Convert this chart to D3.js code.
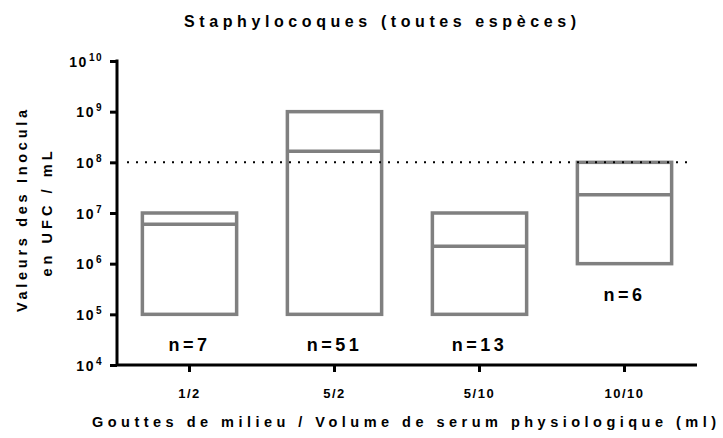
<!DOCTYPE html>
<html><head><meta charset="utf-8">
<script src="https://cdn.jsdelivr.net/npm/d3@7"></script>
<style>body{margin:0;background:#fff}svg{display:block}text{font-family:"Liberation Sans",Arial,sans-serif;font-weight:bold;fill:#000}</style>
</head><body>
<script>
const categories = ["1/2", "5/2", "5/10", "10/10"];
const minValues = [1e5, 1e5, 1e5, 1e6];
const maxValues = [1e7, 1e9, 1e7, 1e8];
const medianValues = [6e6, 1.65e8, 2.2e6, 2.3e7];
const nCounts = [7, 51, 13, 6];
const yTickExponents = [4, 5, 6, 7, 8, 9, 10];
const thresholdValue = 1e8;
const chartTitle = "Staphylocoques (toutes espèces)";
const xTitle = "Gouttes de milieu / Volume de serum physiologique (ml)";
const yTitleLines = ["Valeurs des Inocula", "en UFC / mL"];

const W = 723, H = 438;
const svg = d3.select("body").append("svg").attr("width", W).attr("height", H);

const x = d3.scaleBand().domain(categories).range([117, 697]).paddingInner(0.35).paddingOuter(0.175);
const y = d3.scaleLog().domain([1e4, 1e10]).range([365, 61]);

// boxes
const g = svg.append("g");
categories.forEach((c, i) => {
  g.append("rect")
    .attr("x", x(c)).attr("width", x.bandwidth())
    .attr("y", y(maxValues[i])).attr("height", y(minValues[i]) - y(maxValues[i]))
    .attr("fill", "#fff").attr("stroke", "#808080").attr("stroke-width", 3.5);
  g.append("line")
    .attr("x1", x(c)).attr("x2", x(c) + x.bandwidth())
    .attr("y1", y(medianValues[i])).attr("y2", y(medianValues[i]))
    .attr("stroke", "#808080").attr("stroke-width", 3.5);
  g.append("text")
    .attr("x", x(c) + x.bandwidth() / 2)
    .attr("y", y(minValues[i]) + 37)
    .attr("text-anchor", "middle")
    .style("font-size", "18px").style("letter-spacing", "3.5px")
    .text("n=" + nCounts[i]);
});

// threshold dotted line (drawn over the boxes)
svg.append("line")
  .attr("x1", 127).attr("x2", 693)
  .attr("y1", y(thresholdValue)).attr("y2", y(thresholdValue))
  .attr("stroke", "#000").attr("stroke-width", 2).attr("stroke-dasharray", "2,7");

// y axis
const yAxis = d3.axisLeft(y).tickValues(yTickExponents.map(e => Math.pow(10, e)))
  .tickSize(7).tickFormat("");
const ya = svg.append("g").attr("transform", "translate(117,0)").call(yAxis);
ya.select(".domain").attr("d", `M0,${y(1e10) - 1.5}V${y(1e4)}`).attr("stroke-width", 3);
ya.selectAll(".tick line").attr("stroke-width", 3);
ya.selectAll(".tick").each(function(d) {
  const t = d3.select(this).append("text")
    .attr("x", -14).attr("y", 5).attr("text-anchor", "end")
    .style("font-size", "14px").style("letter-spacing", "1.5px");
  t.append("tspan").text("10");
  t.append("tspan").attr("dx", 1).attr("dy", -6).style("font-size", "10px")
    .text(String(Math.round(Math.log10(d))));
});

// x axis
const xAxis = d3.axisBottom(x).tickSize(7).tickSizeOuter(0).tickFormat("");
const xa = svg.append("g").attr("transform", `translate(0,${y(1e4)})`).call(xAxis);
xa.select(".domain").attr("d", `M117,0H697`).attr("stroke-width", 3);
xa.selectAll(".tick line").attr("stroke-width", 3);
xa.selectAll(".tick").append("text")
  .attr("y", 33).attr("text-anchor", "middle")
  .style("font-size", "13px").style("letter-spacing", "1.5px")
  .text(d => d);

// titles
svg.append("text").attr("x", 380).attr("y", 27).attr("text-anchor", "middle")
  .style("font-size", "16px").attr("textLength", 392).attr("lengthAdjust", "spacing")
  .text(chartTitle);
svg.append("text").attr("x", 404).attr("y", 427).attr("text-anchor", "middle")
  .style("font-size", "14.5px").attr("textLength", 624).attr("lengthAdjust", "spacing")
  .text(xTitle);
const yLens = [202, 125];
yTitleLines.forEach((line, i) => {
  svg.append("text")
    .attr("transform", `translate(${27 + i * 25},${211 + i * 3}) rotate(-90)`)
    .attr("text-anchor", "middle")
    .style("font-size", "14.5px").attr("textLength", yLens[i]).attr("lengthAdjust", "spacing")
    .text(line);
});
</script>
</body></html>
